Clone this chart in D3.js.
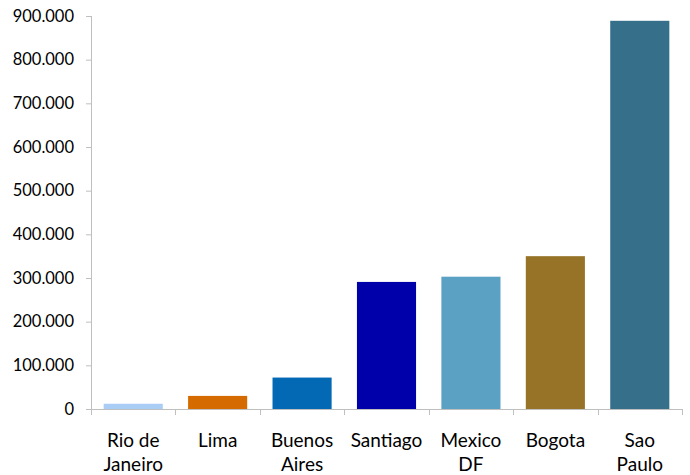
<!DOCTYPE html>
<html>
<head>
<meta charset="utf-8">
<script src="https://cdn.jsdelivr.net/npm/d3@7"></script>
<style>
  body { margin: 0; background: #fff; }
  text { font-family: Lato, "Open Sans", sans-serif; fill: #000; }
</style>
</head>
<body>
<svg id="chart" width="690" height="475"></svg>
<script>
// city labels (split into lines) and values
var cities = [["Rio de", "Janeiro"], ["Lima"], ["Buenos", "Aires"], ["Santiago"], ["Mexico", "DF"], ["Bogota"], ["Sao", "Paulo"]];
var values = [12000, 30000, 72000, 291000, 303000, 350000, 889000];
var colors = ["#a9cdf5", "#d46a00", "#0369b5", "#0000aa", "#5ba1c3", "#977328", "#356f8a"];
var yTicks = [0, 100000, 200000, 300000, 400000, 500000, 600000, 700000, 800000, 900000];

var svg = d3.select("#chart");
var margin = {left: 91, right: 8, top: 16, bottom: 66};
var W = 690, H = 475;

var x = d3.scaleBand()
    .domain(d3.range(cities.length))
    .range([margin.left, W - margin.right])
    .paddingInner(0.3)
    .paddingOuter(0.15);

var y = d3.scaleLinear()
    .domain([0, 900000])
    .range([H - margin.bottom, margin.top]);

// number format with dot as thousands separator
var fmt = function(v){ return v === 0 ? "0" : d3.format(",")(v).replace(/,/g, "."); };

// bars
svg.selectAll("rect.bar")
    .data(values)
    .enter().append("rect")
    .attr("class", "bar")
    .attr("x", function(d, i){ return x(i); })
    .attr("y", function(d){ return y(d); })
    .attr("width", x.bandwidth())
    .attr("height", function(d){ return y(0) - y(d); })
    .attr("fill", function(d, i){ return colors[i]; });

// y axis
var yAxis = svg.append("g")
    .attr("transform", "translate(" + margin.left + ",0)")
    .call(d3.axisLeft(y).tickValues(yTicks).tickFormat(fmt).tickSize(5).tickPadding(12));
yAxis.select(".domain").attr("stroke", "#bfbfbf").attr("d", "M0.5," + y(900000) + "V" + y(0));
yAxis.selectAll(".tick line").attr("stroke", "#bfbfbf");
yAxis.selectAll(".tick text").style("font-size", "16.5px");

// x axis with ticks on band boundaries
var xg = svg.append("g").attr("transform", "translate(0," + y(0) + ")");
xg.append("line")
    .attr("x1", margin.left).attr("x2", W - margin.right)
    .attr("y1", 0.5).attr("y2", 0.5)
    .attr("stroke", "#bfbfbf");
var step = x.step();
var bounds = d3.range(cities.length + 1).map(function(i){ return x(0) - x.paddingInner() * step / 2 + i * step; });
xg.selectAll("line.tick")
    .data(bounds)
    .enter().append("line")
    .attr("x1", function(d){ return Math.round(d) + 0.5; })
    .attr("x2", function(d){ return Math.round(d) + 0.5; })
    .attr("y1", 0).attr("y2", 6)
    .attr("stroke", "#bfbfbf");

var labels = xg.selectAll("text.cat")
    .data(cities)
    .enter().append("text")
    .attr("class", "cat")
    .attr("text-anchor", "middle")
    .style("font-size", "19px")
    .attr("x", function(d, i){ return x(i) + x.bandwidth() / 2; });
labels.selectAll("tspan")
    .data(function(d){ return d; })
    .enter().append("tspan")
    .attr("x", function(){ return d3.select(this.parentNode).attr("x"); })
    .attr("y", function(d, j){ return 38 + j * 23.5; })
    .text(function(d){ return d; });
</script>
</body>
</html>
